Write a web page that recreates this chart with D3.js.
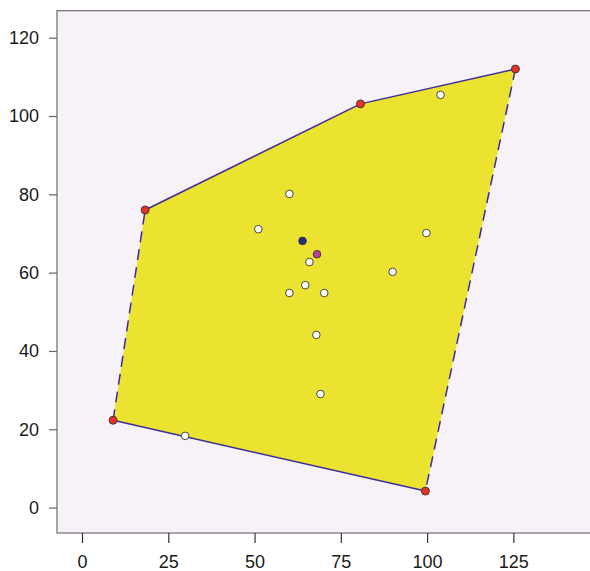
<!DOCTYPE html>
<html>
<head>
<meta charset="utf-8">
<script src="https://cdn.jsdelivr.net/npm/d3@7"></script>
<style>
  body { margin: 0; background: #fff; }
  text { font-family: "Liberation Sans", Arial, sans-serif; }
</style>
</head>
<body>
<div id="chart"></div>
<script>
'use strict'

// hull vertices, in drawing order
const hullX = [9.0, 18.3, 80.7, 125.6, 99.5]
const hullY = [22.3, 76.0, 103.1, 112.0, 4.2]
// edge i goes from vertex i to vertex i+1 (last one closes the polygon)
const edgeDashed = [true, false, false, true, false]

// interior / other points
const ptX = [29.9, 103.9, 60.1, 51.1, 99.8, 90.0, 65.9, 64.7, 60.1, 70.2, 67.9, 69.1]
const ptY = [18.3, 105.4, 80.1, 71.1, 70.1, 60.2, 62.7, 56.8, 54.8, 54.8, 44.1, 29.0]

// two special points
const centerX = [63.9, 68.1]
const centerY = [68.1, 64.7]
const centerColors = ['#2b2a85', '#b5449f']

const xTicks = [0, 25, 50, 75, 100, 125]
const yTicks = [0, 20, 40, 60, 80, 100, 120]

const width = 590
const height = 571

const svg = d3.select('#chart')
  .append('svg')
  .attr('width', width)
  .attr('height', height)

const x = d3.scaleLinear().domain([-7.25, 147.5]).range([57, 591])
const y = d3.scaleLinear().domain([-6.5, 126.9]).range([533, 10.7])

// panel
svg.append('rect')
  .attr('x', 57)
  .attr('y', 10.7)
  .attr('width', 600)
  .attr('height', 533 - 10.7)
  .attr('fill', '#f7f2f7')
  .attr('stroke', '#6b6b6b')
  .attr('stroke-width', 1.2)

// axes
const xAxis = svg.append('g')
  .attr('transform', 'translate(0,533)')
  .call(d3.axisBottom(x).tickValues(xTicks).tickSize(10).tickPadding(12))
xAxis.select('.domain').remove()
xAxis.selectAll('line').attr('stroke', '#333').attr('stroke-width', 1.2)
xAxis.selectAll('text').attr('font-size', 18).attr('fill', '#1a1a1a')

const yAxis = svg.append('g')
  .attr('transform', 'translate(57,0)')
  .call(d3.axisLeft(y).tickValues(yTicks).tickSize(8).tickPadding(10))
yAxis.select('.domain').remove()
yAxis.selectAll('line').attr('stroke', '#666').attr('stroke-width', 1.2)
yAxis.selectAll('text').attr('font-size', 18).attr('fill', '#1a1a1a')

// hull fill
const hull = hullX.map((v, i) => [x(v), y(hullY[i])])
svg.append('path')
  .attr('d', d3.line()(hull) + 'Z')
  .attr('fill', '#ece230')
  .attr('stroke', 'none')

// hull edges
svg.append('g')
  .selectAll('line')
  .data(edgeDashed)
  .enter()
  .append('line')
  .attr('x1', (d, i) => hull[i][0])
  .attr('y1', (d, i) => hull[i][1])
  .attr('x2', (d, i) => hull[(i + 1) % hull.length][0])
  .attr('y2', (d, i) => hull[(i + 1) % hull.length][1])
  .attr('stroke', '#3b2d9c')
  .attr('stroke-width', 1.5)
  .attr('stroke-dasharray', d => d ? '11,7' : null)

// white points
svg.append('g')
  .selectAll('circle')
  .data(ptX)
  .enter()
  .append('circle')
  .attr('cx', d => x(d))
  .attr('cy', (d, i) => y(ptY[i]))
  .attr('r', 3.8)
  .attr('fill', '#fff')
  .attr('stroke', '#333')
  .attr('stroke-width', 0.9)

// center points
svg.append('g')
  .selectAll('circle')
  .data(centerX)
  .enter()
  .append('circle')
  .attr('cx', d => x(d))
  .attr('cy', (d, i) => y(centerY[i]))
  .attr('r', 3.8)
  .attr('fill', (d, i) => centerColors[i])
  .attr('stroke', '#333')
  .attr('stroke-width', 0.9)

// hull vertices
svg.append('g')
  .selectAll('circle')
  .data(hullX)
  .enter()
  .append('circle')
  .attr('cx', d => x(d))
  .attr('cy', (d, i) => y(hullY[i]))
  .attr('r', 4)
  .attr('fill', '#e5312a')
  .attr('stroke', '#333')
  .attr('stroke-width', 0.9)
</script>
</body>
</html>
